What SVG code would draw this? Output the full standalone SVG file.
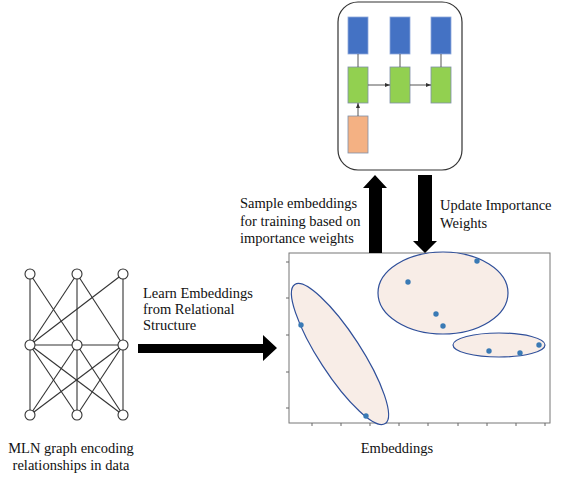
<svg xmlns="http://www.w3.org/2000/svg" width="565" height="478" viewBox="0 0 565 478">
<defs>
<style>
.t{font-family:"Liberation Serif","Times New Roman",serif;font-size:14.5px;fill:#111}
.e{stroke:#333;stroke-width:1.1}
.n{fill:#fff;stroke:#333;stroke-width:1.1}
.blue{fill:#4472c4;stroke:#8ea9db;stroke-width:0.8}
.green{fill:#92d050;stroke:#7f8fa9;stroke-width:0.8}
.orange{fill:#f4b183;stroke:#7f8fa9;stroke-width:0.8}
.cl{fill:#f8ede7;stroke:#2f4f9a;stroke-width:1.2}
.pt{fill:#3a7ab5}
.tk{stroke:#666;stroke-width:1}
.ln{stroke:#555;stroke-width:1}
</style>
<marker id="ah" markerWidth="6" markerHeight="6" refX="5" refY="3" orient="auto" markerUnits="userSpaceOnUse">
<path d="M0,1 L5,3 L0,5 z" fill="#333"/>
</marker>
</defs>
<rect width="565" height="478" fill="#fff"/>

<g id="model">
<rect x="338" y="2" width="124" height="168" rx="20" ry="20" fill="#fff" stroke="#333" stroke-width="1.2"/>
<rect class="blue" x="348" y="17" width="20" height="37"/>
<rect class="blue" x="390" y="17" width="20" height="37"/>
<rect class="blue" x="431" y="17" width="20" height="37"/>
<rect class="green" x="348" y="67" width="20" height="36"/>
<rect class="green" x="390" y="67" width="20" height="36"/>
<rect class="green" x="431" y="67" width="20" height="36"/>
<rect class="orange" x="348" y="116" width="20" height="37"/>
<line class="ln" x1="358" y1="54" x2="358" y2="67"/>
<line class="ln" x1="400" y1="54" x2="400" y2="67"/>
<line class="ln" x1="441" y1="54" x2="441" y2="67"/>
<line class="ln" x1="368" y1="85" x2="390" y2="85" marker-end="url(#ah)"/>
<line class="ln" x1="410" y1="85" x2="431" y2="85" marker-end="url(#ah)"/>
<line class="ln" x1="358" y1="116" x2="358" y2="103" marker-end="url(#ah)"/>
</g>

<g id="mln">
<g class="e">
<line x1="30" y1="274" x2="30" y2="345"/>
<line x1="30" y1="274" x2="77" y2="345"/>
<line x1="77" y1="274" x2="30" y2="345"/>
<line x1="77" y1="274" x2="77" y2="345"/>
<line x1="77" y1="274" x2="123" y2="345"/>
<line x1="123" y1="274" x2="30" y2="345"/>
<line x1="123" y1="274" x2="123" y2="345"/>
<line x1="30" y1="345" x2="123" y2="345"/>
<line x1="30" y1="345" x2="30" y2="415"/>
<line x1="30" y1="345" x2="77" y2="415"/>
<line x1="30" y1="345" x2="123" y2="415"/>
<line x1="77" y1="345" x2="30" y2="415"/>
<line x1="77" y1="345" x2="77" y2="415"/>
<line x1="77" y1="345" x2="123" y2="415"/>
<line x1="123" y1="345" x2="30" y2="415"/>
<line x1="123" y1="345" x2="77" y2="415"/>
<line x1="123" y1="345" x2="123" y2="415"/>
</g>
<circle class="n" cx="30" cy="274" r="5"/>
<circle class="n" cx="77" cy="274" r="5"/>
<circle class="n" cx="123" cy="274" r="5"/>
<circle class="n" cx="30" cy="345" r="5"/>
<circle class="n" cx="77" cy="345" r="5"/>
<circle class="n" cx="123" cy="345" r="5"/>
<circle class="n" cx="30" cy="415" r="5"/>
<circle class="n" cx="77" cy="415" r="5"/>
<circle class="n" cx="123" cy="415" r="5"/>
<text class="t" x="71" y="453" text-anchor="middle">MLN graph encoding</text>
<text class="t" x="71" y="470" text-anchor="middle">relationships in data</text>
</g>

<g id="embeddings">
<rect x="289" y="253" width="261" height="170" fill="#fff" stroke="#777" stroke-width="1"/>
<g class="tk">
<line x1="286" y1="262" x2="289" y2="262"/>
<line x1="286" y1="298" x2="289" y2="298"/>
<line x1="286" y1="335" x2="289" y2="335"/>
<line x1="286" y1="372" x2="289" y2="372"/>
<line x1="286" y1="408" x2="289" y2="408"/>
<line x1="312" y1="423" x2="312" y2="426"/>
<line x1="341" y1="423" x2="341" y2="426"/>
<line x1="370" y1="423" x2="370" y2="426"/>
<line x1="399" y1="423" x2="399" y2="426"/>
<line x1="428" y1="423" x2="428" y2="426"/>
<line x1="458" y1="423" x2="458" y2="426"/>
<line x1="487" y1="423" x2="487" y2="426"/>
<line x1="516" y1="423" x2="516" y2="426"/>
<line x1="545" y1="423" x2="545" y2="426"/>
</g>
<ellipse class="cl" cx="340" cy="354" rx="83" ry="21" transform="rotate(57 340 354)"/>
<ellipse class="cl" cx="443" cy="293" rx="65" ry="41"/>
<ellipse class="cl" cx="499" cy="345" rx="46" ry="12"/>
<circle class="pt" cx="301" cy="325" r="2.7"/>
<circle class="pt" cx="366" cy="416" r="2.7"/>
<circle class="pt" cx="408" cy="282" r="2.7"/>
<circle class="pt" cx="477" cy="261" r="2.7"/>
<circle class="pt" cx="436" cy="314" r="2.7"/>
<circle class="pt" cx="443" cy="326" r="2.7"/>
<circle class="pt" cx="489" cy="351" r="2.7"/>
<circle class="pt" cx="520" cy="353" r="2.7"/>
<circle class="pt" cx="539" cy="345" r="2.7"/>
<text class="t" x="397" y="453" text-anchor="middle">Embeddings</text>
</g>

<g id="connectors">
<path d="M138,344 H263 V335 L277,348 L263,361 V353 H138 Z" fill="#000"/>
<path d="M369,253 V188 H363 L375,175 L387,188 H382 V253 Z" fill="#000"/>
<path d="M418,175 H432 V241 H437 L425,253 L413,241 H418 Z" fill="#000"/>
<text class="t" x="143" y="298">Learn Embeddings</text>
<text class="t" x="143" y="314">from Relational</text>
<text class="t" x="143" y="330">Structure</text>
<text class="t" x="240" y="208">Sample embeddings</text>
<text class="t" x="240" y="226">for training based on</text>
<text class="t" x="240" y="243">importance weights</text>
<text class="t" x="440" y="210">Update Importance</text>
<text class="t" x="440" y="228">Weights</text>
</g>
</svg>
